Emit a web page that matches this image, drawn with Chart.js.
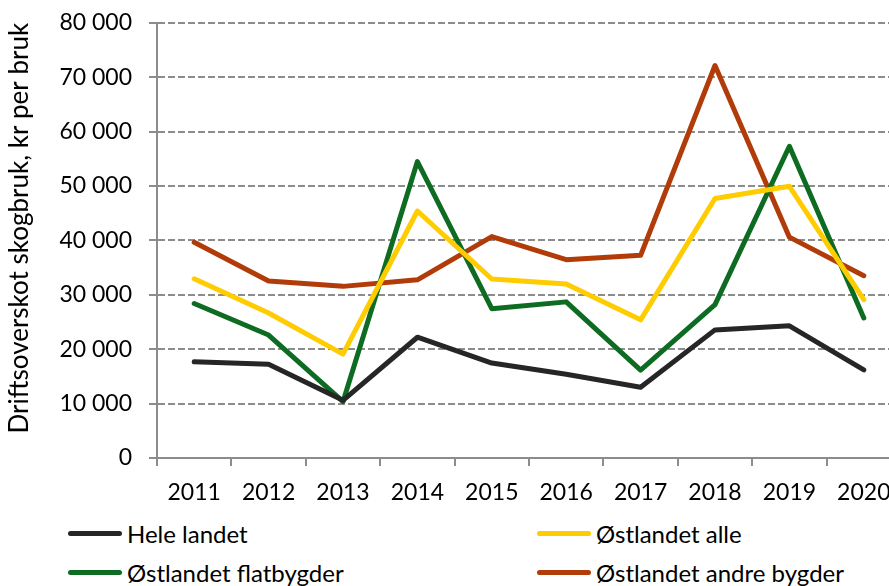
<!DOCTYPE html>
<html>
<head>
<meta charset="utf-8">
<script src="https://cdn.jsdelivr.net/npm/chart.js@4"></script>
<style>
  html, body { margin: 0; padding: 0; background: #fff; overflow: hidden; }
  body { width: 889px; height: 586px; position: relative; }
  #wrap { position: absolute; left: 0; top: -8px; width: 905px; height: 520px; }
  .legend { position: absolute; font-family: Lato, sans-serif; font-size: 24px; color: #000; }
  .item { position: absolute; display: flex; align-items: center; white-space: nowrap; }
  .swatch { display: inline-block; width: 54px; height: 5px; border-radius: 3px; margin-right: 5px; }
</style>
</head>
<body>
<div id="wrap"><canvas id="chart"></canvas></div>
<div class="legend" id="legend"></div>
<script>
const years = ['2011', '2012', '2013', '2014', '2015', '2016', '2017', '2018', '2019', '2020'];

const heleLandet = [17700, 17250, 10600, 22200, 17450, 15400, 13000, 23550, 24300, 16200];
const ostlandetAlle = [32950, 26650, 19100, 45400, 32900, 32000, 25400, 47700, 49950, 29100];
const ostlandetFlat = [28400, 22600, 10350, 54500, 27450, 28700, 16150, 28200, 57300, 25750];
const ostlandetAndre = [39650, 32550, 31550, 32750, 40700, 36450, 37250, 72150, 40600, 33500];

const seriesNames = ['Hele landet', 'Østlandet alle', 'Østlandet flatbygder', 'Østlandet andre bygder'];
const seriesColors = ['#262626', '#FFCC00', '#0E6B22', '#B13C09'];

const FONT = 'Lato';

function fmt(v) {
  return String(v).replace(/\B(?=(\d{3})+(?!\d))/g, ' ');
}

const datasets = [heleLandet, ostlandetAlle, ostlandetFlat, ostlandetAndre].map((vals, i) => ({
  label: seriesNames[i],
  data: vals,
  borderColor: seriesColors[i],
  backgroundColor: seriesColors[i],
  borderWidth: 5,
  pointRadius: 0,
  pointHoverRadius: 0,
  tension: 0,
  fill: false,
  borderJoinStyle: 'round',
  borderCapStyle: 'round',
}));

const chart = new Chart(document.getElementById('chart'), {
  type: 'line',
  data: { labels: years, datasets },
  options: {
    responsive: true,
    maintainAspectRatio: false,
    animation: false,
    layout: { padding: { top: 15, right: 4, left: 0, bottom: 0 } },
    plugins: {
      legend: { display: false },
      tooltip: { enabled: false },
    },
    scales: {
      x: {
        offset: true,
        grid: {
          offset: true,
          drawOnChartArea: false,
          drawTicks: true,
          tickLength: 8,
          color: '#8c8c8c',
          lineWidth: 2,
          tickBorderDash: [],
        },
        border: { display: true, color: '#8c8c8c', width: 2 },
        ticks: {
          color: '#000',
          font: { family: FONT, size: 23 },
          padding: 13,
          maxRotation: 0,
          autoSkip: false,
        },
        afterFit: (scale) => { scale.height = 54; },
      },
      y: {
        min: 0,
        max: 80000,
        ticks: {
          stepSize: 10000,
          color: '#000',
          font: { family: FONT, size: 23 },
          padding: 17,
          callback: (v) => fmt(v),
        },
        grid: {
          color: '#8c8c8c',
          lineWidth: 2,
          tickLength: 8,
          tickBorderDash: [],
        },
        border: { display: true, color: '#8c8c8c', width: 2, dash: [7, 3] },
        title: {
          display: true,
          align: 'end',
          text: 'Driftsoverskot skogbruk, kr per bruk',
          color: '#000',
          font: { family: FONT, size: 26 },
          padding: { top: 4, bottom: 0 },
        },
        afterFit: (scale) => { scale.width = 157; },
      },
    },
  },
});

// legend in two columns under the plot
const legendEl = document.getElementById('legend');
const legendPos = [[68, 533], [537, 533], [68, 572], [537, 572]];
chart.data.datasets.forEach((ds, i) => {
  const item = document.createElement('div');
  item.className = 'item';
  item.style.left = legendPos[i][0] + 'px';
  item.style.top = (legendPos[i][1] - 14) + 'px';
  item.style.height = '28px';
  const sw = document.createElement('span');
  sw.className = 'swatch';
  sw.style.background = ds.borderColor;
  item.appendChild(sw);
  item.appendChild(document.createTextNode(ds.label));
  legendEl.appendChild(item);
});
</script>
</body>
</html>
